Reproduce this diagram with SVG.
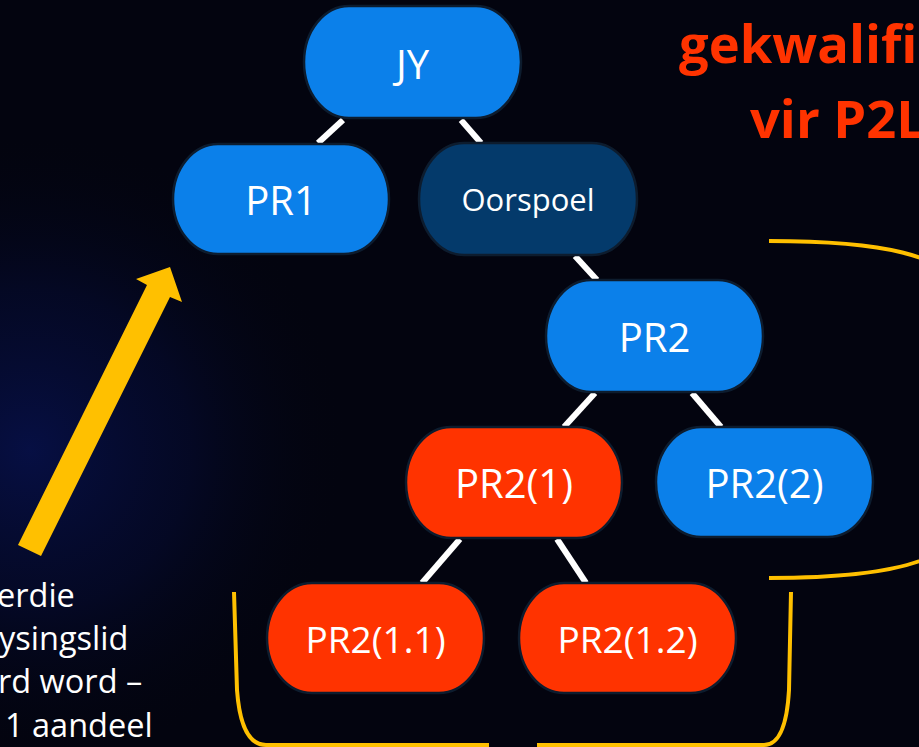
<svg xmlns="http://www.w3.org/2000/svg" width="919" height="747" viewBox="0 0 919 747">
  <defs>
    <radialGradient id="glow" cx="30" cy="450" r="320" gradientUnits="userSpaceOnUse">
      <stop offset="0" stop-color="#0a1a78" stop-opacity="0.5"/>
      <stop offset="0.5" stop-color="#071255" stop-opacity="0.3"/>
      <stop offset="1" stop-color="#03040f" stop-opacity="0"/>
    </radialGradient>
    <style>
      .node rect { stroke: #0d1c2e; stroke-width: 2.5; }
      .blue rect { fill: #0b80ea; }
      .dark rect { fill: #043a6b; }
      .red rect { fill: #ff3300; }
      .lbl { font-family: "Open Sans", "Noto Sans", sans-serif; fill: #ffffff; text-anchor: middle; }
      .conn line { stroke: #ffffff; stroke-width: 6; }
      .bracket { fill: none; stroke: #ffc000; stroke-width: 4; }
      .side { font-family: "Open Sans", "Noto Sans", sans-serif; font-size: 32.5px; fill: #ffffff; }
      .title { font-family: "Open Sans", "Noto Sans", sans-serif; font-size: 52.5px; font-weight: bold; fill: #ff3300; }
    </style>
  </defs>

  <rect x="0" y="0" width="919" height="747" fill="#03040f"/>
  <rect x="0" y="0" width="919" height="747" fill="url(#glow)"/>

  <g id="connectors" class="conn">
    <line x1="343" y1="120" x2="318" y2="143"/>
    <line x1="461" y1="120" x2="481" y2="143"/>
    <line x1="575" y1="256" x2="597" y2="280"/>
    <line x1="595" y1="393" x2="564" y2="427"/>
    <line x1="692" y1="393" x2="721" y2="427"/>
    <line x1="460" y1="539" x2="422" y2="583"/>
    <line x1="557" y1="539" x2="586" y2="583"/>
  </g>

  <g id="node-jy" class="node blue">
    <rect x="304" y="6" width="217" height="112" rx="45" ry="56"/>
    <text class="lbl" x="412.5" y="79" font-size="40">JY</text>
  </g>
  <g id="node-pr1" class="node blue">
    <rect x="173" y="144" width="216" height="110" rx="45" ry="55"/>
    <text class="lbl" x="281" y="215" font-size="40">PR1</text>
  </g>
  <g id="node-oorspoel" class="node dark">
    <rect x="419" y="143" width="218" height="112" rx="45" ry="56"/>
    <text class="lbl" x="528" y="211" font-size="31">Oorspoel</text>
  </g>
  <g id="node-pr2" class="node blue">
    <rect x="546" y="280" width="217" height="112" rx="45" ry="56"/>
    <text class="lbl" x="654.5" y="352" font-size="40">PR2</text>
  </g>
  <g id="node-pr2-1" class="node red">
    <rect x="406" y="427" width="216" height="111" rx="45" ry="55.5"/>
    <text class="lbl" x="514" y="498" font-size="40">PR2(1)</text>
  </g>
  <g id="node-pr2-2" class="node blue">
    <rect x="656" y="427" width="217" height="110" rx="45" ry="55"/>
    <text class="lbl" x="764.5" y="498" font-size="40">PR2(2)</text>
  </g>
  <g id="node-pr2-1-1" class="node red">
    <rect x="267" y="583" width="217" height="110" rx="45" ry="55"/>
    <text class="lbl" x="375.5" y="653" font-size="37">PR2(1.1)</text>
  </g>
  <g id="node-pr2-1-2" class="node red">
    <rect x="519" y="583" width="217" height="110" rx="45" ry="55"/>
    <text class="lbl" x="627.5" y="653" font-size="37">PR2(1.2)</text>
  </g>

  <g id="brackets">
    <path class="bracket" d="M769,241 C870,241 960,252 960,300 L960,520 C960,566 870,578 769,578"/>
    <path class="bracket" d="M234,592 L237,690 Q241,745 266,745 L489,745"/>
    <path class="bracket" d="M537,745 L764,745 Q786,745 789,690 L791,592"/>
  </g>

  <g id="arrow">
    <polygon fill="#ffc000" points="18,545 41,556 170,297 182,302 170,267 136,279 147,285"/>
  </g>

  <g id="side-text" class="side">
    <text x="-3" y="607">erdie</text>
    <text x="-1" y="650">ysingslid</text>
    <text x="-2" y="693">rd word –</text>
    <text x="5" y="737">1 aandeel</text>
  </g>

  <g id="title" class="title">
    <text x="679" y="63">gekwalifi</text>
    <text x="750" y="138">vir P2L</text>
  </g>
</svg>
